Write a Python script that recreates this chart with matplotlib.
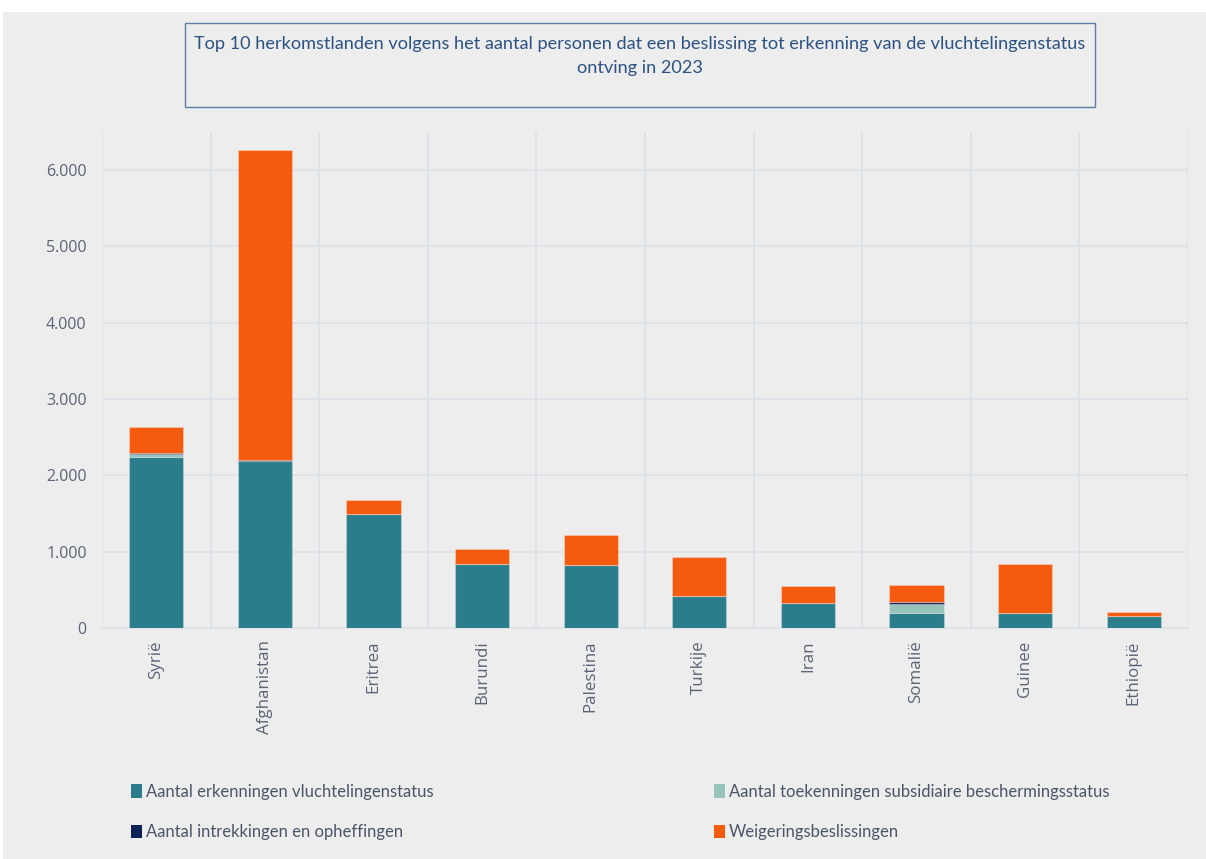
import matplotlib
matplotlib.use("Agg")
import matplotlib.pyplot as plt
from matplotlib.patches import Rectangle, Patch
from matplotlib.ticker import FuncFormatter, MultipleLocator
import numpy as np

countries = ["Syrië", "Afghanistan", "Eritrea", "Burundi", "Palestina",
             "Turkije", "Iran", "Somalië", "Guinee", "Ethiopië"]
erkenningen = [2236, 2189, 1495, 844, 820, 416, 330, 200, 203, 160]
subsidiair = [40, 0, 0, 0, 8, 0, 0, 114, 0, 0]
intrekkingen = [12, 12, 0, 0, 0, 0, 3, 22, 0, 0]
weigeringen = [340, 4060, 183, 193, 394, 520, 219, 228, 641, 56]

series_labels = ["Aantal erkenningen vluchtelingenstatus",
                 "Aantal toekenningen subsidiaire beschermingsstatus",
                 "Aantal intrekkingen en opheffingen",
                 "Weigeringsbeslissingen"]
colors = ["#2C7D8B", "#98C3BD", "#0E2258", "#F45B0F"]
title = ("Top 10 herkomstlanden volgens het aantal personen dat een beslissing tot erkenning van de vluchtelingenstatus\n"
         "ontving in 2023")

plt.rcParams["font.family"] = ["Open Sans", "DejaVu Sans"]

W, H = 1206, 859
bg = "#EDEDED"
fig = plt.figure(figsize=(W / 100, H / 100), dpi=100)
fig.patch.set_facecolor(bg)
# white strips at top and left edge
fig.patches.append(Rectangle((0, 1 - 12 / H), 1, 12 / H, transform=fig.transFigure,
                             facecolor="white", edgecolor="none", zorder=-5))
fig.patches.append(Rectangle((0, 0), 3 / W, 1, transform=fig.transFigure,
                             facecolor="white", edgecolor="none", zorder=-5))

# title box
fig.patches.append(Rectangle((185 / W, 1 - 107 / H), (1095 - 185) / W, (107 - 23) / H,
                             transform=fig.transFigure, facecolor="none",
                             edgecolor="#5A7DA5", linewidth=1.0, zorder=1))
fig.text(640 / W, 1 - 56 / H, title, ha="center", va="center", fontsize=13.1,
         family="Lato", color="#2B5282", linespacing=1.55)

ax = fig.add_axes([102 / W, 1 - 628 / H, (1188 - 102) / W, (628 - 132) / H])
ax.set_facecolor(bg)
x = np.arange(len(countries))
series = [erkenningen, subsidiair, intrekkingen, weigeringen]
bottom = np.zeros(len(countries))
for vals, col in zip(series, colors):
    v = np.array(vals, dtype=float)
    ax.bar(x, v, width=0.5, bottom=bottom, color=col, zorder=3,
           edgecolor=(1, 1, 1, 0.25), linewidth=0.8)
    bottom += v

ax.set_xlim(-0.5, len(countries) - 0.5)
ax.set_ylim(0, 6500)
ax.yaxis.set_major_locator(MultipleLocator(1000))
ax.yaxis.set_major_formatter(FuncFormatter(lambda v, p: f"{int(v):,}".replace(",", ".")))
ax.set_xticks(x)
ax.set_xticklabels(countries, rotation=90)
ax.set_xticks(np.arange(-0.5, len(countries), 1), minor=True)
ax.tick_params(axis="both", which="both", length=0, labelcolor="#5A6476")
ax.tick_params(axis="y", pad=11, labelsize=11.5)
ax.tick_params(axis="x", pad=9, labelsize=12.2)
ax.grid(axis="y", which="major", color="#DDE3EA", linewidth=1.3, zorder=0)
ax.grid(axis="x", which="minor", color="#DDE3EA", linewidth=1.3, zorder=0)
for s in ["top", "left", "right"]:
    ax.spines[s].set_visible(False)
ax.spines["bottom"].set_color("#DDE3EA")
ax.spines["bottom"].set_linewidth(1.3)

handles = [Patch(facecolor=c, edgecolor="none") for c in colors]
leg_kw = dict(frameon=False, handlelength=0.65, handleheight=0.9,
              handletextpad=0.25, labelspacing=1.45, borderpad=0, borderaxespad=0,
              loc="upper left", labelcolor="#4A5568", prop={"family": "Lato", "size": 12})
fig.legend([handles[0], handles[2]], [series_labels[0], series_labels[2]],
           bbox_to_anchor=(131 / W, 1 - 784 / H), **leg_kw)
fig.legend([handles[1], handles[3]], [series_labels[1], series_labels[3]],
           bbox_to_anchor=(714 / W, 1 - 784 / H), **leg_kw)

fig.savefig("out.png", dpi=100, facecolor=fig.get_facecolor())
